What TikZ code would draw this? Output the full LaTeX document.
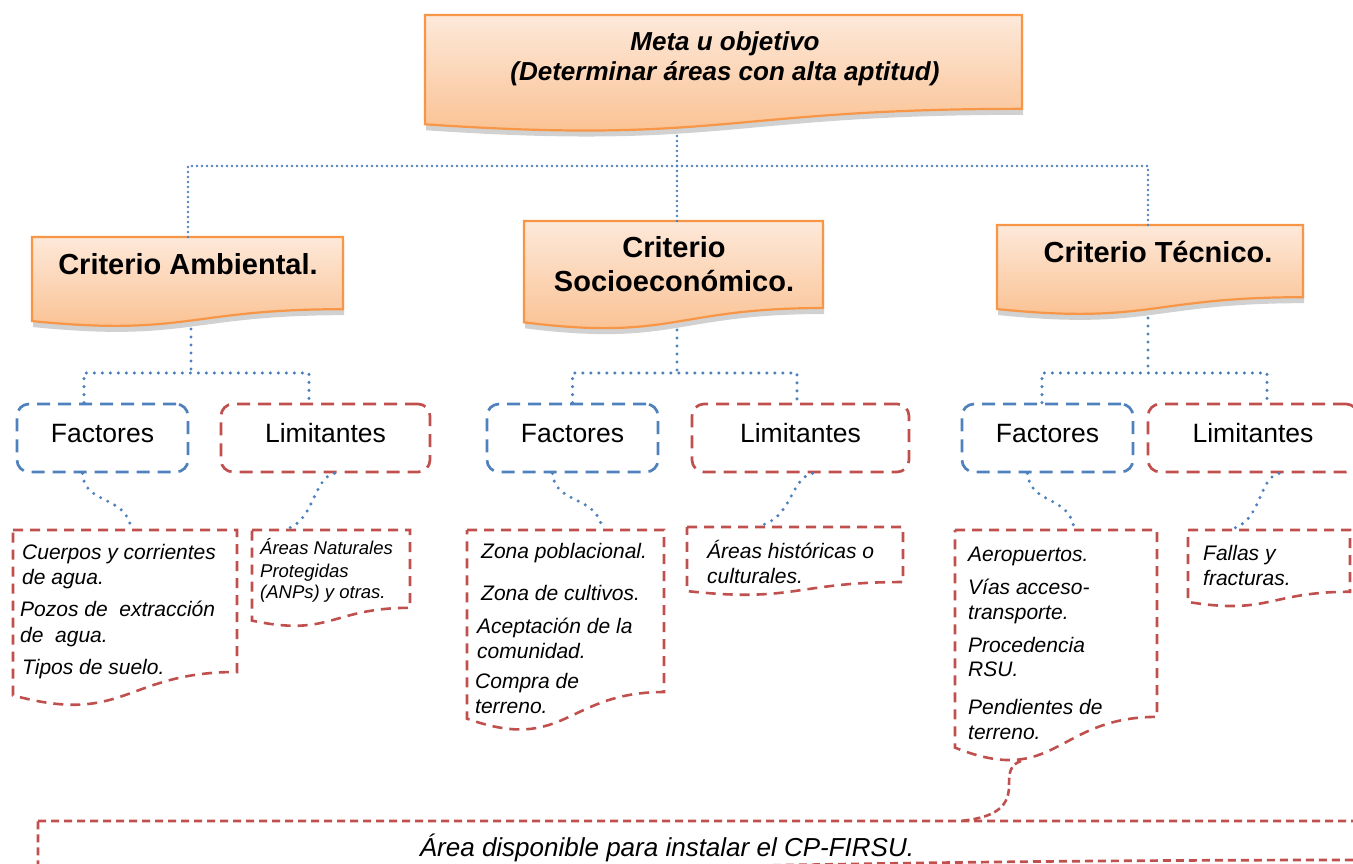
\documentclass[tikz,border=0pt]{standalone}
\usepackage{fontspec}
\setmainfont{Liberation Sans}
\usetikzlibrary{shadows}
\definecolor{obl}{RGB}{79,129,189}
\definecolor{ord}{RGB}{192,80,77}
\definecolor{oor}{RGB}{247,150,70}
\definecolor{ftop}{RGB}{253,233,218}
\definecolor{fbot}{RGB}{250,190,140}
\newcommand\docshape[5][]{%
  \path[#1] (#2,#3) -- ({#2+#4},#3) -- ({#2+#4},{#3+0.802*#5})
    .. controls ({#2+0.5*#4},{#3+0.802*#5}) and ({#2+0.5*#4},{#3+1.1075*#5}) ..
    (#2,{#3+0.934*#5}) -- cycle;}
\begin{document}
\begin{tikzpicture}[x=1pt,y=-1pt,
  crit/.style={draw=oor, line width=2.2pt, top color=ftop, bottom color=fbot,
    drop shadow={shadow xshift=1pt, shadow yshift=-6pt, opacity=0.18, fill=black}},
  toptxt/.style={font=\fontsize{26}{30}\selectfont\bfseries\itshape, inner sep=0pt, anchor=base},
  crittxt/.style={font=\fontsize{29}{34}\selectfont\bfseries, inner sep=0pt, anchor=base},
  fbox/.style={draw=obl, line width=2.7pt, dash pattern=on 13pt off 8pt, rounded corners=12pt,
    minimum height=68pt, text height=19pt, text depth=10pt, inner sep=0pt,
    font=\fontsize{26.5}{30}\selectfont},
  lbox/.style={fbox, draw=ord},
  doc/.style={draw=ord, line width=2.6pt, dash pattern=on 10pt off 7pt},
  botdoc/.style={draw=ord, line width=2.7pt, dash pattern=on 8pt off 5pt},
  itxt/.style={font=\fontsize{21}{25}\selectfont\itshape, inner sep=0pt, anchor=base west},
  stxt/.style={font=\fontsize{18.5}{22}\selectfont\itshape, inner sep=0pt, anchor=base west},
  dotA/.style={draw=obl, line width=2.9pt, dash pattern=on 0pt off 5pt, line cap=round},
  dotB/.style={draw=obl, line width=3.4pt, dash pattern=on 0pt off 8pt, line cap=round},
  redc/.style={draw=ord, line width=2.6pt, dash pattern=on 7pt off 4pt}
]
\useasboundingbox (0,0) rectangle (1353,863);
\clip (0,0) rectangle (1353,863);

% orange document boxes
\docshape[crit]{425}{15}{597}{117}
\docshape[crit]{32}{237}{311}{90}
\docshape[crit]{524}{221}{299}{108.5}
\docshape[crit]{997}{225}{306}{90}

\node[toptxt] (m1) at (725,50.6) {Meta u objetivo};
\node[toptxt] (m2) at (725,80.6) {(Determinar áreas con alta aptitud)};
\node[crittxt] (ca) at (188,274.6) {Criterio Ambiental.};
\node[crittxt] (cs1) at (674,257.6) {Criterio};
\node[crittxt] (cs2) at (674,291.6) {Socioeconómico.};
\node[crittxt] (ct) at (1158,262.6) {Criterio Técnico.};

% factores / limitantes
\node[fbox, minimum width=171pt] (af) at (102.5,438) {Factores};
\node[lbox, minimum width=209pt] (al) at (325.5,438) {Limitantes};
\node[fbox, minimum width=171pt] (sf) at (572.5,438) {Factores};
\node[lbox, minimum width=217pt] (sl) at (800.5,438) {Limitantes};
\node[fbox, minimum width=171pt] (tf) at (1047.5,438) {Factores};
\node[lbox, minimum width=210pt] (tl) at (1253,438) {Limitantes};

% lower document boxes
\docshape[doc]{13}{530}{224}{177}
\docshape[doc]{252}{530}{158}{97}
\docshape[doc]{467}{530}{197}{202}
\docshape[doc]{687}{527}{216}{68.6}
\docshape[doc]{955}{530}{202}{233}
\docshape[doc]{1188}{530}{162}{77}
\docshape[botdoc]{38}{821}{1340}{48.6}

% texts
\node[itxt] (a1) at (22,559) {Cuerpos y corrientes};
\node[itxt] (a2) at (22,584) {de agua.};
\node[itxt] (a3) at (20,616) {Pozos de\ \ extracción};
\node[itxt] (a4) at (20,642) {de\ \ agua.};
\node[itxt] (a5) at (22,674) {Tipos de suelo.};

\node[stxt] (b1) at (260,554.5) {Áreas Naturales};
\node[stxt] (b2) at (260,577) {Protegidas};
\node[stxt] (b3) at (260,598) {(ANPs) y otras.};

\node[itxt] (c1) at (481,558) {Zona poblacional.};
\node[itxt] (c2) at (481,600) {Zona de cultivos.};
\node[itxt] (c3) at (477,633) {Aceptación de la};
\node[itxt] (c4) at (477,658) {comunidad.};
\node[itxt] (c5) at (475,688) {Compra de};
\node[itxt] (c6) at (475,713) {terreno.};

\node[itxt] (d1) at (707,558) {Áreas históricas o};
\node[itxt] (d2) at (707,583) {culturales.};

\node[itxt] (e1) at (968,561) {Aeropuertos.};
\node[itxt] (e2) at (968,594) {Vías acceso-};
\node[itxt] (e3) at (968,619) {transporte.};
\node[itxt] (e4) at (968,652) {Procedencia};
\node[itxt] (e5) at (968,676) {RSU.};
\node[itxt] (e6) at (968,714) {Pendientes de};
\node[itxt] (e7) at (968,739) {terreno.};

\node[itxt] (f1) at (1203,560) {Fallas y};
\node[itxt] (f2) at (1203,585) {fracturas.};

\node[font=\fontsize{26}{30}\selectfont\itshape, inner sep=0pt, anchor=base] (g1) at (667,856) {Área disponible para instalar el CP-FIRSU.};

% tree connectors
\coordinate (tb) at (677,136);
\coordinate (hub) at (677,166);
\coordinate (caT) at (188,237);
\coordinate (csT) at (677,221);
\coordinate (ctT) at (1148,225);
\draw[dotA] (tb) -- (hub);
\draw[dotA] (hub) -- (csT);
\draw[dotA] (caT) |- (hub) -| (ctT);

\coordinate (caB) at (191,329);
\coordinate (cah) at (191,373);
\coordinate (csB) at (677,330);
\coordinate (csh) at (677,373);
\coordinate (ctB) at (1148,318);
\coordinate (cth) at (1148,373);
\draw[dotB] (caB) -- (cah);
\draw[dotB] ([xshift=-18.5pt]af.north) |- (cah) -| ([xshift=-16.5pt]al.north);
\draw[dotB] (csB) -- (csh);
\draw[dotB] (sf.north) |- (csh) -| ([xshift=-3.5pt]sl.north);
\draw[dotB] (ctB) -- (cth);
\draw[dotB] ([xshift=-5.5pt]tf.north) |- (cth) -| ([xshift=14pt]tl.north);

% curved connectors to document boxes
\coordinate (afd) at (131,529);
\coordinate (ald) at (286,529);
\coordinate (sfd) at (602,529);
\coordinate (sld) at (758,526);
\coordinate (tfd) at (1074,529);
\coordinate (tld) at (1231,529);
\draw[dotB] ([xshift=-20pt]af.south) .. controls (84,505) and (127,495) .. (afd);
\draw[dotB] ([xshift=9pt]al.south) .. controls (313,478) and (314,522) .. (ald);
\draw[dotB] ([xshift=-20pt]sf.south) .. controls (555,505) and (598,495) .. (sfd);
\draw[dotB] ([xshift=12pt]sl.south) .. controls (790,478) and (792,520) .. (sld);
\draw[dotB] ([xshift=-20pt]tf.south) .. controls (1030,505) and (1070,495) .. (tfd);
\draw[dotB] ([xshift=26pt]tl.south) .. controls (1258,478) and (1262,522) .. (tld);

% red connector to bottom box
\coordinate (tfB) at (1021,761);
\coordinate (botT) at (960,821);
\draw[redc] (tfB) .. controls (1010,765) and (1009,772) .. (1009,786)
  .. controls (1009,810) and (990,818) .. (botT);
\end{tikzpicture}
\end{document}
